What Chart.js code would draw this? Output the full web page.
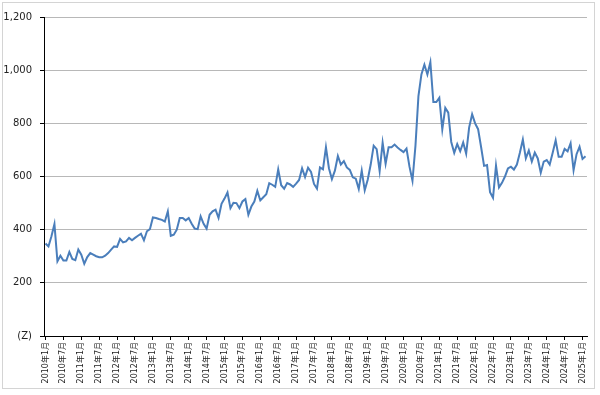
<!DOCTYPE html>
<html>
<head>
<meta charset="utf-8">
<script src="https://cdn.jsdelivr.net/npm/chart.js@4/dist/chart.umd.min.js"></script>
<style>
  body { margin: 0; background: #fff; }
  canvas { display: block; }
</style>
</head>
<body>
<canvas id="chart" width="600" height="395"></canvas>
<script>
// monthly data, 2010年1月 .. 2025年2月
const startYear = 2010;
const values = [
  348, 337, 375, 421, 281, 302, 284, 284, 316, 290, 285, 325,
  306, 272, 297, 312, 306, 300, 296, 296, 302, 312, 325, 337,
  335, 365, 352, 356, 369, 360, 369, 377, 385, 360, 394, 402,
  446, 444, 440, 437, 431, 469, 377, 381, 400, 444, 444, 435,
  444, 422, 404, 402, 450, 422, 404, 456, 469, 475, 444, 497,
  517, 540, 481, 501, 500, 481, 506, 515, 456, 487, 506, 546,
  510, 522, 533, 575, 569, 561, 627, 567, 554, 575, 570, 561,
  573, 587, 631, 598, 633, 617, 572, 554, 634, 627, 710, 631,
  590, 622, 677, 645, 658, 634, 625, 597, 592, 553, 622, 548,
  588, 645, 716, 703, 620, 727, 648, 710, 710, 720, 709, 700,
  692, 705, 637, 584, 715, 902, 984, 1021, 984, 1030, 880, 880,
  896, 777, 858, 840, 730, 689, 722, 695, 728, 686, 785, 834,
  800, 778, 711, 640, 643, 541, 520, 641, 559, 576, 600, 630,
  637, 626, 645, 689, 739, 668, 698, 656, 690, 668, 614, 656,
  662, 645, 689, 736, 674, 674, 704, 695, 725, 624, 684, 712,
  666, 676
];
const yTicks = [0, 200, 400, 600, 800, 1000, 1200];
const zeroLabel = '(Z)';

const labels = values.map((v, i) =>
  (startYear + Math.floor(i / 12)) + '年' + (i % 12 + 1) + '月');

const frame = {
  id: 'frame',
  beforeDraw(chart) {
    const c = chart.ctx;
    c.save();
    c.fillStyle = '#fff';
    c.fillRect(0, 0, chart.width, chart.height);
    c.strokeStyle = '#d4d4d4';
    c.lineWidth = 1;
    c.strokeRect(2.5, 2.5, 592, 386);
    c.restore();
  }
};

new Chart(document.getElementById('chart'), {
  type: 'line',
  data: {
    labels: labels,
    datasets: [{
      data: values,
      borderColor: '#4a7ebb',
      borderWidth: 2,
      pointRadius: 0,
      tension: 0,
      fill: false
    }]
  },
  options: {
    responsive: false,
    animation: false,
    layout: { padding: { top: 17, right: 13, left: 0, bottom: 0 } },
    plugins: { legend: { display: false }, tooltip: { enabled: false } },
    scales: {
      x: {
        offset: true,
        border: { color: '#000', width: 1 },
        grid: { drawOnChartArea: false, tickColor: '#000', tickLength: 4, offset: false },
        ticks: {
          autoSkip: false,
          minRotation: 90,
          maxRotation: 90,
          padding: 2,
          color: '#222',
          font: { family: 'DejaVu Sans, "Noto Sans CJK JP"', size: 8 }
        },
        afterBuildTicks(scale) {
          scale.ticks = scale.ticks.filter(t => t.value % 6 === 0);
        },
        afterFit(scale) { scale.height = 59; }
      },
      y: {
        min: 0,
        max: 1200,
        afterBuildTicks(scale) {
          scale.ticks = yTicks.map(v => ({ value: v }));
        },
        afterFit(scale) { scale.width = 44; },
        border: { color: '#000', width: 1 },
        grid: { color: '#b8b8b8', tickColor: '#000', tickLength: 4 },
        ticks: {
          padding: 8,
          color: '#222',
          font: { family: 'DejaVu Sans', size: 10 },
          callback: v => v === 0 ? zeroLabel : v.toLocaleString('en-US')
        }
      }
    }
  },
  plugins: [frame]
});
</script>
</body>
</html>
